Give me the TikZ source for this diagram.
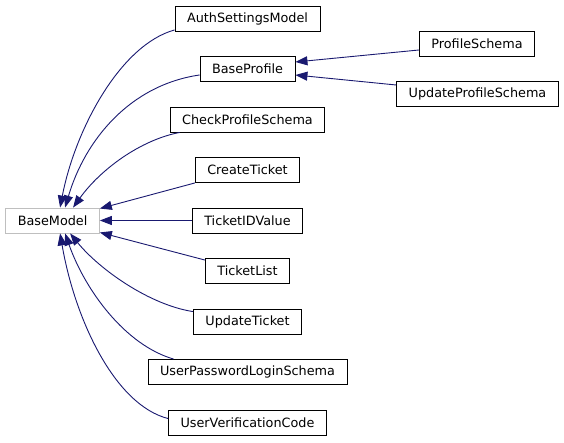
\documentclass[tikz,border=0pt]{standalone}
\usepackage{fontspec}
\setmainfont{DejaVu Sans}
\usetikzlibrary{arrows.meta,positioning}
\definecolor{edgeblue}{HTML}{191970}
\definecolor{basegray}{HTML}{BFBFBF}

\begin{document}
\begin{tikzpicture}[
x=1pt,y=-1pt,
node distance=24.6pt and 92pt,
cls/.style={draw,line width=0.9pt,inner xsep=12pt,inner ysep=0pt,minimum height=25pt,font=\fontsize{12.8}{15}\selectfont},
root/.style={cls,draw=basegray},
inh/.style={{Triangle[length=12pt,width=9pt]}-,draw=edgeblue,fill=none,line width=0.9pt}
]
\useasboundingbox (0,0) rectangle (564,443);
\node[cls] (auth) at (247.5,18.5) {AuthSettingsModel};
\node[cls,below=of auth] (bprof) {BaseProfile};
\node[cls,below=of bprof] (chk) {CheckProfileSchema};
\node[cls,below=of chk] (create) {CreateTicket};
\node[cls,below=of create] (tid) {TicketIDValue};
\node[cls,below=of tid] (tlist) {TicketList};
\node[cls,below=of tlist] (upd) {UpdateTicket};
\node[cls,below=of upd] (login) {UserPasswordLoginSchema};
\node[cls,below=of login] (verif) {UserVerificationCode};
\node[root,left=of tid] (base) {BaseModel};
\node[cls] (pschema) at (477,43.5) {ProfileSchema};
\node[cls] (upschema) at (477.5,94) {UpdateProfileSchema};
% inheritance edges into BaseModel
\draw[inh] ([xshift=7.5pt]base.north) .. controls (75,130) and (120,45) .. ([yshift=1.5pt]auth.south west);
\draw[inh] ([xshift=12.5pt]base.north) .. controls (85,140) and (130,85) .. ([yshift=-6pt]bprof.west);
\draw[inh] ([xshift=20.5pt]base.north) .. controls (100,170) and (140,140) .. ([xshift=10pt]chk.south west);
\draw[inh] ([yshift=-1pt]base.north east) -- (create.south west);
\draw[inh] (base.east) -- (tid.west);
\draw[inh] ([yshift=1pt]base.south east) -- ([yshift=-2pt]tlist.north west);
\draw[inh] ([xshift=17.5pt]base.south) .. controls (100,270) and (150,305) .. ([yshift=-3pt]upd.north west);
\draw[inh] ([xshift=12.5pt]base.south) .. controls (85,290) and (125,345) .. ([xshift=26pt]login.north west);
\draw[inh] ([xshift=7.5pt]base.south) .. controls (75,320) and (115,405) .. ([yshift=-9pt]verif.north west);
% edges into BaseProfile
\draw[inh] ([yshift=7pt]bprof.east) -- ([yshift=-6.5pt]pschema.west);
\draw[inh] ([yshift=-6pt]bprof.east) -- ([yshift=9pt]upschema.west);
\end{tikzpicture}
\end{document}
